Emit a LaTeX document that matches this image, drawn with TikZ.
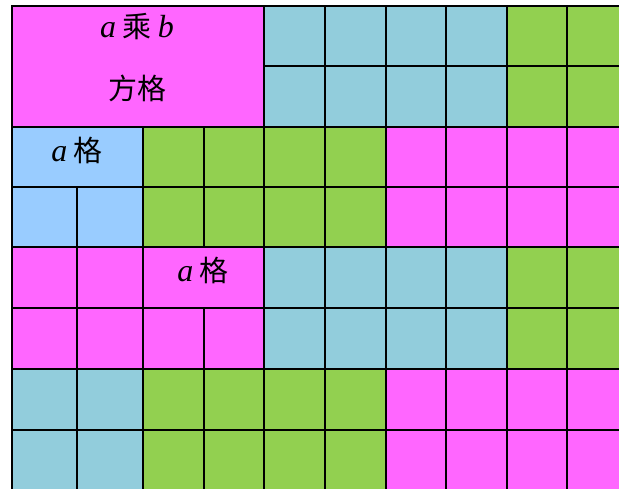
\documentclass[tikz,border=0pt]{standalone}
\usepackage{fontspec}
\setmainfont{Liberation Serif}
\newfontfamily\cjk{Noto Sans CJK SC}
\newcommand\latv[1]{{\rmfamily\itshape\fontsize{32}{34}\selectfont #1}}
\definecolor{mag}{HTML}{FF66FF}
\definecolor{tealc}{HTML}{92CDDC}
\definecolor{grn}{HTML}{92D050}
\definecolor{lblue}{HTML}{99CCFF}
\begin{document}
\begin{tikzpicture}[x=1pt,y=-1pt,
  cellbox/.style={draw=black,line width=1.4pt},
  lbl/.style={font=\fontsize{29}{31}\selectfont\cjk, inner sep=0pt}]
\useasboundingbox (0,0) rectangle (619,488);
\clip (0,0) rectangle (619,488);
\fill[white] (0,0) rectangle (619,488);
% rows 0-1
\draw[cellbox,fill=mag] (12,6) rectangle (264,127);
\foreach \ya/\yb in {6/66,66/127}{
  \foreach \xa/\xb in {264/325,325/386,386/446,446/507}{\draw[cellbox,fill=tealc] (\xa,\ya) rectangle (\xb,\yb);}
  \foreach \xa/\xb in {507/567,567/630}{\draw[cellbox,fill=grn] (\xa,\ya) rectangle (\xb,\yb);}
}
% rows 2-3
\draw[cellbox,fill=lblue] (12,127) rectangle (143,187);
\draw[cellbox,fill=lblue] (12,187) rectangle (77,247);
\draw[cellbox,fill=lblue] (77,187) rectangle (143,247);
\foreach \ya/\yb in {127/187,187/247}{
  \foreach \xa/\xb in {143/204,204/264,264/325,325/386}{\draw[cellbox,fill=grn] (\xa,\ya) rectangle (\xb,\yb);}
  \foreach \xa/\xb in {386/446,446/507,507/567,567/630}{\draw[cellbox,fill=mag] (\xa,\ya) rectangle (\xb,\yb);}
}
% rows 4-5
\draw[cellbox,fill=mag] (12,247) rectangle (77,308);
\draw[cellbox,fill=mag] (77,247) rectangle (143,308);
\draw[cellbox,fill=mag] (143,247) rectangle (264,308);
\foreach \xa/\xb in {12/77,77/143,143/204,204/264}{\draw[cellbox,fill=mag] (\xa,308) rectangle (\xb,369);}
\foreach \ya/\yb in {247/308,308/369}{
  \foreach \xa/\xb in {264/325,325/386,386/446,446/507}{\draw[cellbox,fill=tealc] (\xa,\ya) rectangle (\xb,\yb);}
  \foreach \xa/\xb in {507/567,567/630}{\draw[cellbox,fill=grn] (\xa,\ya) rectangle (\xb,\yb);}
}
% rows 6-7
\foreach \ya/\yb in {369/430,430/491}{
  \foreach \xa/\xb in {12/77,77/143}{\draw[cellbox,fill=tealc] (\xa,\ya) rectangle (\xb,\yb);}
  \foreach \xa/\xb in {143/204,204/264,264/325,325/386}{\draw[cellbox,fill=grn] (\xa,\ya) rectangle (\xb,\yb);}
  \foreach \xa/\xb in {386/446,446/507,507/567,567/630}{\draw[cellbox,fill=mag] (\xa,\ya) rectangle (\xb,\yb);}
}
% labels
\node[lbl] (ab) at (137,27) {\latv{a} 乘 \latv{b}};
\node[lbl] (fg) at (137,88) {方格};
\node[lbl] (ag1) at (77,150) {\latv{a} 格};
\node[lbl] (ag2) at (203,270) {\latv{a} 格};
\end{tikzpicture}
\end{document}
